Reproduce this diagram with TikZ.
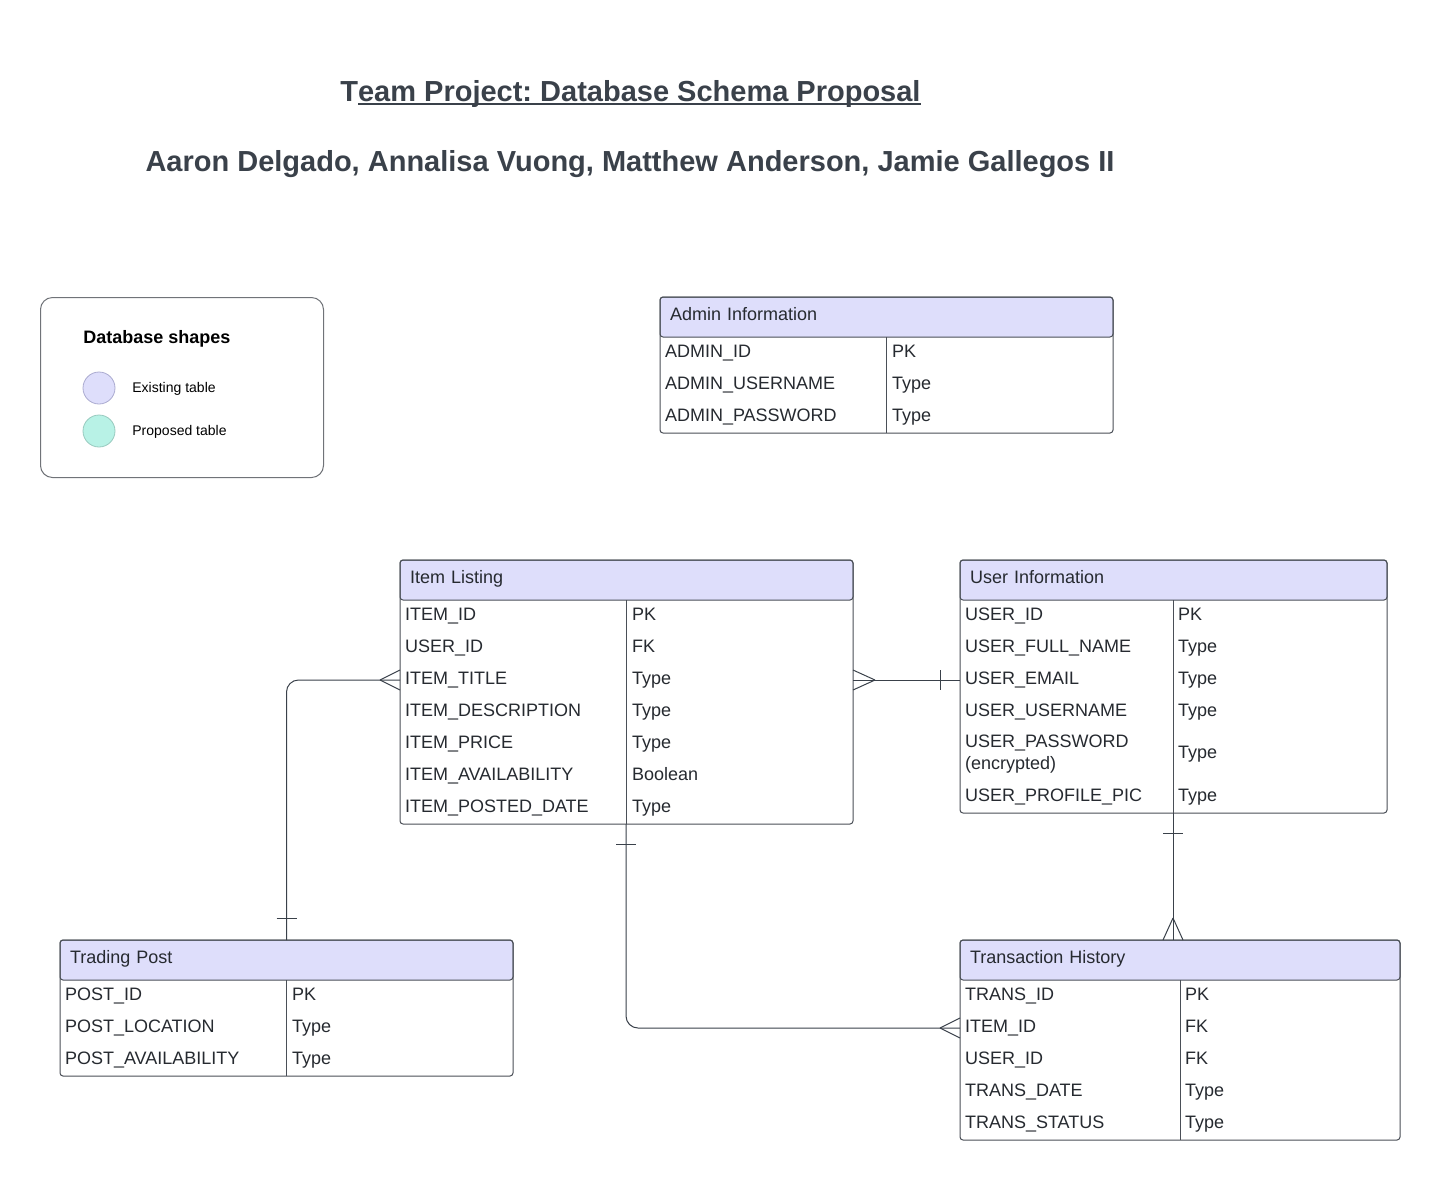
\documentclass[tikz,border=0pt]{standalone}
\usepackage{fontspec}
\setmainfont{Liberation Sans}
\usetikzlibrary{positioning, fit, calc, backgrounds}
\definecolor{ardoise}{HTML}{3A414A}
\definecolor{trait}{HTML}{4A4F57}
\definecolor{lavande}{HTML}{DEDEFB}
\definecolor{lavandebord}{HTML}{ABABD0}
\definecolor{menthe}{HTML}{B8F2E6}
\definecolor{menthebord}{HTML}{98CABF}
\definecolor{encre}{HTML}{262A30}
\definecolor{gris}{HTML}{707378}
\frenchspacing
\newcommand\souligne[1]{\setbox0\hbox{#1}\rlap{\rule[-2pt]{\wd0}{1pt}}\box0}
\tikzset{
  titre/.style={font=\fontsize{14.5}{17}\selectfont\bfseries, text=ardoise, inner sep=0pt},
  entete/.style={rectangle, rounded corners=1.5pt, draw=trait, line width=0.5pt,
    fill=lavande, text=encre, font=\fontsize{9}{11}\selectfont, align=left,
    minimum height=20pt, text height=7pt, text depth=3.5pt, inner xsep=5pt,
    inner ysep=0pt, outer sep=0pt},
  champ/.style={rectangle, text=encre, font=\fontsize{9}{11}\selectfont, align=left,
    text width=#1, minimum height=16pt, text height=7pt, text depth=3pt,
    inner xsep=2.5pt, inner ysep=0pt, outer sep=0pt},
  typecol/.style={text=encre, font=\fontsize{9}{11}\selectfont, text height=7pt,
    text depth=3pt, inner sep=0pt, outer sep=0pt},
  cadre/.style={rectangle, rounded corners=1.5pt, draw=trait, line width=0.5pt, inner sep=0pt},
  separe/.style={draw=trait, line width=0.5pt},
  legende/.style={rectangle, rounded corners=6pt, draw=gris, line width=0.5pt,
    minimum width=141.5pt, minimum height=90pt},
  pastille/.style={circle, minimum size=16pt, inner sep=0pt, line width=0.4pt},
  petit/.style={font=\fontsize{7}{8}\selectfont, text=black, inner sep=0pt},
  lien/.style={draw=ardoise, line width=0.5pt}
}
\begin{document}
\begin{tikzpicture}[x=0.5pt, y=-0.5pt]
  \path[use as bounding box, fill=white] (0,0) rectangle (1440,1180);

  % Titre
  \node[titre, anchor=base] (titre) at (630.5,101)
    {T\souligne{eam Project: Database Schema Proposal}};
  \node[titre, anchor=base] (auteurs) at (630,171)
    {Aaron Delgado, Annalisa Vuong, Matthew Anderson, Jamie Gallegos II};

  % Legende
  \node[legende, anchor=north west] (leg) at (40,297) {};
  \node[anchor=base west, inner sep=0pt, font=\fontsize{9}{11}\selectfont\bfseries]
    (leg-titre) at (83,343.5) {Database shapes};
  \node[pastille, fill=lavande, draw=lavandebord] (leg-exist) at (99,388) {};
  \node[petit, anchor=base west] (leg-exist-txt) at (132,392) {Existing table};
  \node[pastille, fill=menthe, draw=menthebord] (leg-prop) at (99,431) {};
  \node[petit, anchor=base west] (leg-prop-txt) at (132,435) {Proposed table};

  % Admin Information
  \node[entete, text width=216.5pt, anchor=north west, alias=admin-0] (admin) at (660,297)
    {Admin Information};
  \foreach \c/\t [count=\i, remember=\i as \j (initially 0)] in
    {ADMIN\_ID/PK, ADMIN\_USERNAME/Type, ADMIN\_PASSWORD/Type}{
    \node[champ=221.5pt, below=0pt of admin-\j] (admin-\i) {\c};
    \node[typecol, right=116pt of admin-\i.west] {\t};
  }
  \node[cadre, fit=(admin)(admin-3)] (admin-cadre) {};
  \draw[separe] ([xshift=113pt]admin.south west) -- ([xshift=113pt]admin-3.south west);

  % Item Listing
  \node[entete, text width=216.5pt, anchor=north west, alias=item-0] (item) at (400,560)
    {Item Listing};
  \foreach \c/\t [count=\i, remember=\i as \j (initially 0)] in
    {ITEM\_ID/PK, USER\_ID/FK, ITEM\_TITLE/Type, ITEM\_DESCRIPTION/Type,
     ITEM\_PRICE/Type, ITEM\_AVAILABILITY/Boolean, ITEM\_POSTED\_DATE/Type}{
    \node[champ=221.5pt, below=0pt of item-\j] (item-\i) {\c};
    \node[typecol, right=116pt of item-\i.west] {\t};
  }
  \node[cadre, fit=(item)(item-7)] (item-cadre) {};
  \coordinate (item-bas) at ([xshift=113pt]item-7.south west);
  \draw[separe] ([xshift=113pt]item.south west) -- (item-bas);

  % User Information
  \node[entete, text width=203.5pt, anchor=north west, alias=user-0] (user) at (960,560)
    {User Information};
  \foreach \c/\t [count=\i, remember=\i as \j (initially 0)] in
    {USER\_ID/PK, USER\_FULL\_NAME/Type, USER\_EMAIL/Type, USER\_USERNAME/Type}{
    \node[champ=208.5pt, below=0pt of user-\j] (user-\i) {\c};
    \node[typecol, right=109pt of user-\i.west] {\t};
  }
  \node[champ=208.5pt, below=0pt of user-4, minimum height=26.5pt, text depth=14pt]
    (user-5) {USER\_PASSWORD\\(encrypted)};
  \node[typecol, right=109pt of user-5.west] {Type};
  \node[champ=208.5pt, below=0pt of user-5] (user-6) {USER\_PROFILE\_PIC};
  \node[typecol, right=109pt of user-6.west] {Type};
  \node[cadre, fit=(user)(user-6)] (user-cadre) {};
  \coordinate (user-bas) at ([xshift=106.5pt]user-6.south west);
  \draw[separe] ([xshift=106.5pt]user.south west) -- (user-bas);

  % Trading Post
  \node[entete, text width=216.5pt, anchor=north west, alias=post-0] (post) at (60,940)
    {Trading Post};
  \foreach \c/\t [count=\i, remember=\i as \j (initially 0)] in
    {POST\_ID/PK, POST\_LOCATION/Type, POST\_AVAILABILITY/Type}{
    \node[champ=221.5pt, below=0pt of post-\j] (post-\i) {\c};
    \node[typecol, right=116pt of post-\i.west] {\t};
  }
  \node[cadre, fit=(post)(post-3)] (post-cadre) {};
  \draw[separe] ([xshift=113pt]post.south west) -- ([xshift=113pt]post-3.south west);

  % Transaction History
  \node[entete, text width=210pt, anchor=north west, alias=trans-0] (trans) at (960,940)
    {Transaction History};
  \foreach \c/\t [count=\i, remember=\i as \j (initially 0)] in
    {TRANS\_ID/PK, ITEM\_ID/FK, USER\_ID/FK, TRANS\_DATE/Type, TRANS\_STATUS/Type}{
    \node[champ=215pt, below=0pt of trans-\j] (trans-\i) {\c};
    \node[typecol, right=112.5pt of trans-\i.west] {\t};
  }
  \node[cadre, fit=(trans)(trans-5)] (trans-cadre) {};
  \draw[separe] ([xshift=110pt]trans.south west) -- ([xshift=110pt]trans-5.south west);

  % Item Listing -- Trading Post
  \draw[lien, rounded corners=6pt] (item-3.west) -| (post.north);
  \draw[lien] ($(item-3.west)+(-20,0)$) -- ($(item-3.west)+(0,-10)$)
              ($(item-3.west)+(-20,0)$) -- ($(item-3.west)+(0,10)$);
  \draw[lien] ($(post.north)+(-10,-22)$) -- ($(post.north)+(10,-22)$);

  % Item Listing -- User Information
  \draw[lien] (item-3.east) -- (user-3.west);
  \draw[lien] ($(item-3.east)+(22,0)$) -- ($(item-3.east)+(0,-10)$)
              ($(item-3.east)+(22,0)$) -- ($(item-3.east)+(0,10)$);
  \draw[lien] ($(user-3.west)+(-20,-10)$) -- ($(user-3.west)+(-20,10)$);

  % Item Listing -- Transaction History
  \draw[lien, rounded corners=6pt] (item-bas) |- (trans-2.west);
  \draw[lien] ($(item-bas)+(-10,20)$) -- ($(item-bas)+(10,20)$);
  \draw[lien] ($(trans-2.west)+(-20,0)$) -- ($(trans-2.west)+(0,-10)$)
              ($(trans-2.west)+(-20,0)$) -- ($(trans-2.west)+(0,10)$);

  % User Information -- Transaction History
  \coordinate (pied-trans) at (user-bas |- trans.north);
  \draw[lien] (user-bas) -- (pied-trans);
  \draw[lien] ($(user-bas)+(-10,20)$) -- ($(user-bas)+(10,20)$);
  \draw[lien] ($(pied-trans)+(0,-22)$) -- ($(pied-trans)+(-10,0)$)
              ($(pied-trans)+(0,-22)$) -- ($(pied-trans)+(10,0)$);
\end{tikzpicture}
\end{document}
